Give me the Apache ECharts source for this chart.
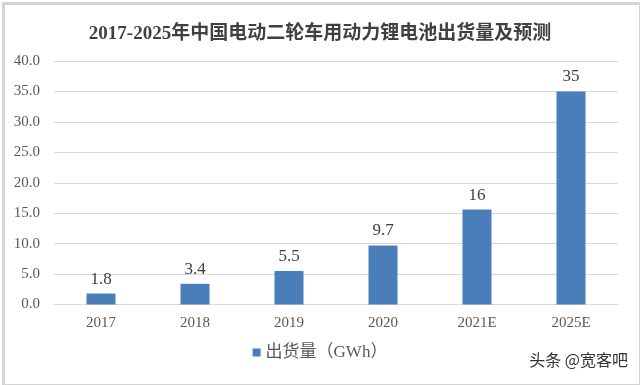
<!DOCTYPE html>
<html>
<head>
<meta charset="utf-8">
<script src="https://cdn.jsdelivr.net/npm/echarts@6/dist/echarts.min.js"></script>
<style>html,body{margin:0;padding:0;background:#fff}#c{width:640px;height:385px}</style>
</head>
<body>
<div id="c"></div>
<script>
var categories = ['2017', '2018', '2019', '2020', '2021E', '2025E'];
var shipments = [1.8, 3.4, 5.5, 9.7, 15.6, 35];
var valueLabels = ['1.8', '3.4', '5.5', '9.7', '16', '35'];
var yTicks = { min: 0, max: 40, interval: 5 };
var titleText = '2017-2025年中国电动二轮车用动力锂电池出货量及预测';
var seriesName = '出货量（GWh）';
var watermark = '头条 @宽客吧';

var serif = '"Liberation Serif", "Times New Roman", "Noto Sans CJK SC", serif';
var chart = echarts.init(document.getElementById('c'), null, { renderer: 'canvas' });
chart.setOption({
  backgroundColor: '#ffffff',
  animation: false,
  title: {
    text: titleText,
    left: 'center',
    top: 20,
    textStyle: { fontFamily: serif, fontSize: 19, fontWeight: 'bold', color: '#404040' }
  },
  legend: {
    data: [seriesName],
    bottom: 19,
    left: 'center',
    icon: 'rect',
    itemWidth: 8,
    itemHeight: 8,
    itemGap: 3,
    textStyle: { fontFamily: serif, fontSize: 17, color: '#595959' }
  },
  grid: { left: 54, right: 22, top: 61, bottom: 80.5, containLabel: false },
  xAxis: {
    type: 'category',
    data: categories,
    axisLine: { lineStyle: { color: '#d9d9d9', width: 1 } },
    axisTick: { show: false },
    axisLabel: { fontFamily: serif, fontSize: 15, color: '#595959', margin: 11 }
  },
  yAxis: {
    type: 'value',
    min: yTicks.min,
    max: yTicks.max,
    interval: yTicks.interval,
    axisLine: { show: false },
    axisTick: { show: false },
    splitLine: { lineStyle: { color: '#d9d9d9', width: 1 } },
    axisLabel: {
      fontFamily: serif, fontSize: 15, color: '#595959', margin: 14,
      formatter: function (v) { return v.toFixed(1); }
    }
  },
  series: [{
    name: seriesName,
    type: 'bar',
    data: shipments,
    barWidth: 29,
    itemStyle: { color: '#4a7ebb' },
    label: {
      show: true,
      position: 'top',
      distance: 6,
      fontFamily: serif,
      fontSize: 17,
      color: '#404040',
      formatter: function (p) { return valueLabels[p.dataIndex]; }
    }
  }],
  graphic: [
    {
      type: 'rect',
      left: 1, top: 1,
      shape: { width: 637, height: 382 },
      style: { fill: 'none', stroke: '#d4d4d4', lineWidth: 3 },
      silent: true
    },
    {
      type: 'text',
      right: 12,
      top: 352,
      style: {
        text: watermark,
        fontFamily: '"Noto Sans CJK SC", sans-serif',
        fontSize: 16,
        fill: '#333333'
      }
    }
  ]
});
</script>
</body>
</html>
